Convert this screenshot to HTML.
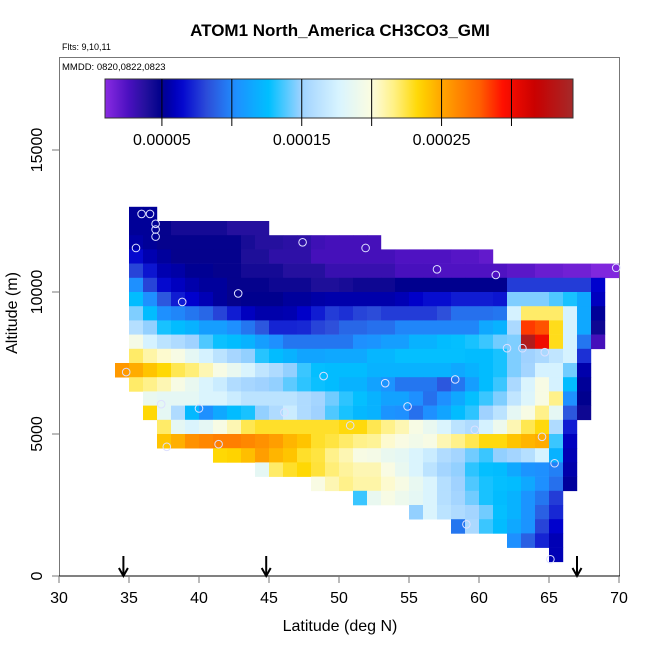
<!DOCTYPE html>
<html><head><meta charset="utf-8"><style>
body{margin:0;background:#fff;}
svg{display:block;font-family:"Liberation Sans",sans-serif;}
</style></head><body>
<svg id="chart" width="650" height="650" viewBox="0 0 650 650" xmlns="http://www.w3.org/2000/svg">
<rect x="0" y="0" width="650" height="650" fill="#fff"/>
<text x="340" y="36" font-size="17" font-weight="bold" text-anchor="middle">ATOM1 North_America CH3CO3_GMI</text>
<text x="62" y="50" font-size="9">Flts: 9,10,11</text>
<rect x="59.5" y="57.5" width="560" height="518.5" fill="none" stroke="#777" stroke-width="1"/>
<text x="62" y="70" font-size="9.5">MMDD: 0820,0822,0823</text>
<g id="cells"></g>
<g id="obs"></g>
<g id="cbar"></g>
<g id="axes"></g>
<g id="arrows"></g>
<text x="340" y="631" font-size="16" text-anchor="middle">Latitude (deg N)</text>
<text x="0" y="0" font-size="16" text-anchor="middle" transform="translate(17,313) rotate(-90)">Altitude (m)</text>
</svg>
<script>
// values in units of 1e-5; each row: altitude bin (lower edge, m), start latitude, values per 1-degree cell
const rowAlts = [12500,12000,11500,11000,10500,10000,9500,9000,8500,8000,7500,7000,6500,6000,5500,5000,4500,4000,3500,3000,2500,2000,1500,1000,500];
const rowStarts = [35,35,35,35,35,35,35,35,35,35,35,34,35,36,36,37,37,41,44,48,51,55,58,62,65];
const row12500 = [5.2,5.2];
const row12000 = [5.2,5.2,4.8,4.3,4.3,4.3,4.3,3.8,3.8,3.8];
const row11500 = [5.5,5.2,4.8,4.8,4.8,4.8,4.8,4.8,4.2,3.8,3.8,3.6,3.5,3.0,2.8,2.8,2.8,2.8];
const row11000 = [6.5,5.7,5.3,4.8,4.8,4.8,4.8,4.8,4.0,4.0,3.5,3.5,3.5,2.8,2.8,2.8,2.8,2.8,2.8,2.5,2.5,2.5,2.5,2.3,2.3,2.0];
const row10500 = [8,6.8,5.7,5.5,5.1,5.1,4.8,4.8,4.3,4.3,4.3,3.8,3.8,3.8,3.2,3.2,3.2,3.2,3.2,2.7,2.7,2.7,2.5,2.5,2.5,2.5,2.5,2.2,2.2,1.8,1.8,1.6,1.6,1.2,1.2];
const row10000 = [10.3,8,6.5,6,5.6,5.3,5.3,4.8,4.8,4.8,4.5,4.5,4.5,4.0,4.0,4.2,4.5,4.5,4.5,5,5,5,5,5,5,5,5,7.8,7.8,7.8,7.8,7.8,7.8,6.3];
const row9500 = [12.5,10.3,8.5,7,6.3,5.8,5.3,4.8,5,5,5,5.3,5.3,5.5,5.6,5.6,5.6,5.6,5.6,5.8,6.2,6.6,6.6,7,7,7,6.8,14.5,14.5,14.5,13.8,13,11.5,6];
const row9000 = [14.5,12.5,10.3,10,9.5,9,8,7,6,5.6,5.6,5.7,6.2,7,7.8,7.5,8,8.2,7.8,7.8,7.8,7.8,8.3,9.3,9.3,9.3,9.5,17.5,22,22,22,17.5,11.5,5.2];
const row8500 = [16,14.8,13,12.5,12,11,11,10.3,9.5,8.5,7.2,7.2,7.3,8,8.3,9,9,9.3,9.3,10,10,10,10,10,10,11.5,12,15.5,28.5,28,23,17.5,11.5,4.5];
const row8000 = [19.5,17.5,16.3,15.7,15,13.8,12.8,12.5,12,11,10.3,9.5,9.5,9.5,9.5,9.5,10.3,10.5,11,11,12,12,12.5,12.7,13,13.5,14.3,14.5,33.5,30,23,17.5,9.5,2.8];
const row7500 = [22,21,20.3,19.7,18.5,17.5,16.3,15.3,14.8,13.2,12.5,12,11.3,11.3,11.5,11.5,11.5,12.2,12.2,12.7,12.7,12.7,12.7,12.7,12.5,12.5,13,14.5,15,15.5,16.5,17.5,7.5];
const row7000 = [25.5,24.8,24,23.3,22.3,21.8,20.8,19.7,18.8,17.8,16.5,15.7,14.8,13.5,12.7,12.5,12.5,12.5,12,12,12,12,12,12,11.5,12,12.5,13,14.5,15.2,17.5,17.5,14.3,5.6];
const row6500 = [22,21.5,20.8,19.7,18.8,17.8,17,15.8,15.3,15,14.8,14,13.3,12.8,12.5,12,12,11.2,10.5,9.5,9.5,9.5,8.5,9.5,11,12.5,13.5,15.5,17.8,19.7,17.5,12.5,5.2];
const row6000 = [18.8,18.5,18.5,18.5,17.8,17.8,17,16.3,16.3,16.3,16.3,15.7,15.2,14.3,13.3,12.7,12,11.2,11.2,10.3,9.3,10.3,11.5,12.7,13.5,14.5,16.5,18,19.7,21.5,10.3,5];
const row5500 = [23.3,18.5,15.7,12.3,10.3,11.5,12.5,13,14.8,15.7,17,15.7,15,13.8,13,12.3,12,10.5,10.3,9.3,10.3,11.3,12.5,13.3,15,16.3,18.5,19.7,21.5,18.5,8.5,4.5];
const row5000 = [22,18.5,17.8,18.5,19.7,20.8,22.3,22.8,22.8,22.8,22.8,22.8,22.8,23.2,23.2,22.3,21.5,20.8,19.7,18.8,17.8,16.3,15.7,17.5,19,20.8,22.3,23.2,15.7,7];
const row4500 = [24,24.7,25.8,26.2,26.5,26.5,26.2,25.8,25.3,24.5,24,22.8,22.5,22,21.5,21.3,20.3,19.8,19.3,19.7,20.8,21.5,22.3,23.2,23.2,24,24.5,24.8,13.5,6];
const row4000 = [23.3,23.5,24.2,25.3,24.5,24,22.8,22.5,21.5,20.8,19.7,19.5,18.8,18.5,17.8,17,15.8,15.2,14.3,13.5,14.8,15.2,16,17.5,12,5.8];
const row3500 = [18.5,22,22.8,23.3,22.6,21.8,21.2,20.8,20.8,19.8,18.8,17.8,16.3,15.2,14.8,13.3,12.7,12.5,11.5,10.5,10.3,9.8,5.6];
const row3000 = [19.8,20.8,21.5,21,21,20.3,19.7,18.7,17.8,16,15,13.8,13,12.7,12.5,11.5,10.3,9.3,5.3];
const row2500 = [13.5,18.8,19.7,19,18.5,17.8,16,15.2,14.3,13,12.5,12,10.5,9.5,7.8];
const row2000 = [14.8,17.8,16.3,15.7,15.2,14.3,12.7,12,10.5,8.8,7.3];
const row1500 = [9.5,15.5,13.5,12.5,11.5,10.5,8,6.3];
const row1000 = [10.3,8.8,7.2,5.8];
const row500 = [5.8];
const rowValues = [row12500,row12000,row11500,row11000,row10500,row10000,row9500,row9000,row8500,row8000,row7500,row7000,row6500,row6000,row5500,row5000,row4500,row4000,row3500,row3000,row2500,row2000,row1500,row1000,row500];
const obsLat = [35.9,36.5,36.9,36.9,36.9,35.5,47.4,51.9,57.0,61.2,69.8,42.8,38.8,63.1,62.0,64.7,34.8,48.9,53.3,58.3,40.0,46.1,54.9,50.8,59.7,64.5,65.4,59.1,65.1,37.7,41.4,37.3];
const obsAlt = [12750,12750,12400,12200,11950,11550,11750,11550,10800,10600,10850,9950,9650,8020,8020,7880,7180,7040,6790,6920,5900,5760,5970,5300,5150,4900,3970,1820,590,4550,4640,6050];
const yTicks = [0,5000,10000,15000];
const xTicks = [30,35,40,45,50,55,60,65,70];
const arrowLats = [34.6,44.8,67.0];
const cbarTicks = [0.00005,0.00015,0.00025];
const cbarDivs = [0.00005,0.0001,0.00015,0.0002,0.00025,0.0003];

const NS='http://www.w3.org/2000/svg';
const xS = lat => 59 + (lat-30)*14;
const yS = alt => 576 - alt*0.0284;
const vMin = 0.93, vMax = 34.4; // 1e-5 units
const stops = [[0,'#8a2be2'],[0.05,'#4b10c0'],[0.09,'#20109a'],[0.12,'#00008b'],[0.16,'#0000cd'],[0.22,'#2e50da'],[0.28,'#1e90ff'],[0.35,'#00bfff'],[0.42,'#a0d2ff'],[0.50,'#d8f4ff'],[0.57,'#fcfce0'],[0.62,'#fff080'],[0.67,'#ffd700'],[0.72,'#ffa500'],[0.80,'#ff6000'],[0.85,'#ff1000'],[0.92,'#c80000'],[1,'#a52a2a']];
function hex(c){return [parseInt(c.substr(1,2),16),parseInt(c.substr(3,2),16),parseInt(c.substr(5,2),16)];}
function cmap(f){
  f=Math.max(0,Math.min(1,f));
  for(let i=1;i<stops.length;i++){
    if(f<=stops[i][0]){
      const a=hex(stops[i-1][1]),b=hex(stops[i][1]);
      const t=(f-stops[i-1][0])/(stops[i][0]-stops[i-1][0]);
      return 'rgb('+a.map((v,k)=>Math.round(v+(b[k]-v)*t)).join(',')+')';
    }
  }
  return stops[stops.length-1][1];
}
function mk(tag,attrs,parent){const e=document.createElementNS(NS,tag);for(const k in attrs)e.setAttribute(k,attrs[k]);parent.appendChild(e);return e;}

const cells=document.getElementById('cells');
rowValues.forEach((vals,r)=>{
  const alt=rowAlts[r], y0=yS(alt+500), y1=yS(alt);
  vals.forEach((v,i)=>{
    const lat=rowStarts[r]+i;
    const el=mk('rect',{x:xS(lat).toFixed(2),y:y0.toFixed(2),width:'14.2',height:(y1-y0+0.3).toFixed(2),fill:cmap((v-vMin)/(vMax-vMin))},cells);
    
    
  });
});

const obs=document.getElementById('obs');
obsLat.forEach((lat,i)=>{
  const c=mk('circle',{cx:xS(lat),cy:yS(obsAlt[i]),r:3.8,fill:'none',stroke:'#dde0ff','stroke-width':1},obs);
  
  
});

// colorbar
const cb=document.getElementById('cbar');
const cbX0=105,cbX1=573,cbY0=79,cbY1=118;
const cbV=v=>cbX0+(v*1e5-vMin)/(vMax-vMin)*(cbX1-cbX0);
const defs=mk('defs',{},cb);
const grad=mk('linearGradient',{id:'g',x1:'0',x2:'1',y1:'0',y2:'0'},defs);
for(let i=0;i<=60;i++){mk('stop',{offset:(i/60),'stop-color':cmap(i/60)},grad);}
const cbr=mk('rect',{x:cbX0,y:cbY0,width:cbX1-cbX0,height:cbY1-cbY0,fill:'url(#g)',stroke:'#333','stroke-width':1},cb);


cbarDivs.forEach(v=>{
  const x=cbV(v);
  const l=mk('line',{x1:x,x2:x,y1:cbY0,y2:cbY1+8,stroke:'#000','stroke-width':1},cb);
  
  
});
cbarTicks.forEach(v=>{
  const t=mk('text',{x:cbV(v),y:145,'font-size':16,'text-anchor':'middle'},cb);
  t.textContent=v.toFixed(5);
  
  
});

// axes
const ax=document.getElementById('axes');
mk('line',{x1:52,x2:620,y1:576,y2:576,stroke:'#000','stroke-width':1},ax);
xTicks.forEach(v=>{
  const x=xS(v);
  mk('line',{x1:x,x2:x,y1:576,y2:583,stroke:'#777','stroke-width':1},ax);
  const t=mk('text',{x:x,y:603,'font-size':16,'text-anchor':'middle'},ax);
  t.textContent=v;
  
  
});
yTicks.forEach(v=>{
  const y=yS(v);
  mk('line',{x1:52,x2:59,y1:y,y2:y,stroke:'#777','stroke-width':1},ax);
  const t=mk('text',{x:0,y:0,'font-size':16,'text-anchor':'middle',transform:'translate(42,'+y+') rotate(-90)'},ax);
  t.textContent=v;
  
  
});

// arrows
const ar=document.getElementById('arrows');
arrowLats.forEach(lat=>{
  const x=xS(lat);
  const g=mk('g',{},ar);
  
  
  mk('line',{x1:x,x2:x,y1:556,y2:575,stroke:'#000','stroke-width':2},g);
  mk('polyline',{points:(x-4.5)+',568 '+x+',576 '+(x+4.5)+',568',fill:'none',stroke:'#000','stroke-width':2},g);
});
</script>
</body></html>
